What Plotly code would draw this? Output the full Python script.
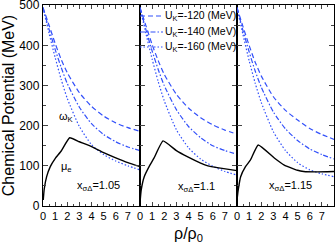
import plotly.graph_objects as go
from plotly.subplots import make_subplots

# ---- data ----
rho_k = [0, 0.5, 1, 1.5, 2, 3, 4, 5, 6, 7, 8]
uk_labels = ["U<sub>K</sub>=-120 (MeV)", "U<sub>K</sub>=-140 (MeV)", "U<sub>K</sub>=-160 (MeV)"]
panel_labels = ["x<sub>σΔ</sub>=1.05", "x<sub>σΔ</sub>=1.1", "x<sub>σΔ</sub>=1.15"]

omega_p1_120 = [494, 450, 405, 365, 332, 282, 248, 224, 207, 195, 186]
omega_p1_140 = [494, 440, 390, 345, 305, 246, 205, 178, 160, 147, 138]
omega_p1_160 = [494, 430, 370, 315, 268, 198, 153, 128, 112, 100, 90]

omega_p2_120 = [494, 448, 402, 362, 328, 278, 244, 220, 202, 189, 179]
omega_p2_140 = [494, 438, 386, 340, 300, 240, 198, 170, 150, 138, 129]
omega_p2_160 = [494, 428, 366, 310, 262, 190, 145, 117, 99, 86, 77]

omega_p3_120 = [494, 446, 400, 358, 324, 272, 238, 214, 193, 178, 166]
omega_p3_140 = [494, 436, 384, 336, 296, 234, 192, 163, 142, 128, 117]
omega_p3_160 = [494, 426, 362, 306, 258, 185, 138, 108, 90, 80, 73]

mu_x_p1 = [0.02, 0.1, 0.3, 0.6, 1.0, 1.5, 2.2, 3, 4, 5, 6, 7, 8]
mu_y_p1 = [15, 42, 73, 98, 118, 137, 170, 160, 148, 133, 120, 108, 98]
mu_x_p2 = [0.02, 0.1, 0.35, 0.75, 1.15, 1.9, 3, 3.9, 5, 5.6, 6.5, 8]
mu_y_p2 = [15, 40, 73, 98, 119, 162, 138, 123, 107, 100, 95, 88]
mu_x_p3 = [0.02, 0.1, 0.3, 0.7, 1.1, 1.75, 3.1, 3.9, 5.0, 5.5, 6.5, 8]
mu_y_p3 = [20, 40, 73, 98, 114, 152, 119, 102, 89, 86, 85, 86]

x_ticks = [0, 1, 2, 3, 4, 5, 6, 7]
y_ticks = [0, 100, 200, 300, 400, 500]

omegas = [
    [omega_p1_120, omega_p1_140, omega_p1_160],
    [omega_p2_120, omega_p2_140, omega_p2_160],
    [omega_p3_120, omega_p3_140, omega_p3_160],
]
mus = [(mu_x_p1, mu_y_p1), (mu_x_p2, mu_y_p2), (mu_x_p3, mu_y_p3)]

BLUE = "rgb(50,80,250)"
dashes = ["5px,3px", "5px,2px,1.5px,2px", "1.5px,2px"]
FONT = "Liberation Sans, Arial, sans-serif"

# plot-area geometry in pixels (for the hand-drawn legend)
W, H = 336, 250
ML, MR, MT, MB = 43, 2, 5, 44
PW, PH = W - ML - MR, H - MT - MB


def px_to_paper(px, py):
    return (px - ML) / PW, (H - MB - py) / PH


fig = make_subplots(rows=1, cols=3, shared_yaxes=True, horizontal_spacing=0)

for p in range(3):
    for k in range(3):
        fig.add_trace(go.Scatter(
            x=rho_k, y=omegas[p][k], mode="lines",
            line=dict(color=BLUE, width=1.2, dash=dashes[k], shape="spline", smoothing=0.6),
            name=uk_labels[k], showlegend=False, hoverinfo="skip"),
            row=1, col=p + 1)
    fig.add_trace(go.Scatter(
        x=mus[p][0], y=mus[p][1], mode="lines",
        line=dict(color="black", width=1.4, shape="spline", smoothing=0.4),
        showlegend=False, hoverinfo="skip"), row=1, col=p + 1)

for p in range(3):
    fig.update_xaxes(
        range=[0, 8], tickvals=x_ticks, ticks="inside", ticklen=4, tickwidth=1,
        minor=dict(dtick=0.5, ticks="inside", ticklen=2, tickwidth=1),
        showline=True, linecolor="black", linewidth=1.2, mirror="allticks",
        showgrid=False, zeroline=False, automargin=False, ticklabeloverflow="allow",
        tickfont=dict(size=11, family=FONT, color="black"),
        row=1, col=p + 1)
    fig.update_yaxes(
        range=[0, 500.5], tickvals=y_ticks, ticks="inside", ticklen=5, tickwidth=1,
        minor=dict(dtick=50, ticks="inside", ticklen=3, tickwidth=1),
        showline=True, linecolor="black", linewidth=1.2, mirror="allticks",
        showgrid=False, zeroline=False, automargin=False, ticklabeloverflow="allow",
        tickfont=dict(size=12, family=FONT, color="black"),
        row=1, col=p + 1)

fig.update_yaxes(title=dict(text="Chemical Potential (MeV)", font=dict(size=16, family=FONT, color="black"), standoff=3),
                 row=1, col=1)
fig.update_xaxes(title=dict(text="ρ/ρ<sub>0</sub>", font=dict(size=16, family=FONT, color="black"), standoff=6),
                 row=1, col=2)

fig.layout.xaxis.domain = [0, 1 / 3]
fig.layout.xaxis2.domain = [1 / 3, 2 / 3]
fig.layout.xaxis3.domain = [2 / 3, 1]

ann_font = dict(size=11, family=FONT, color="black")
fig.add_annotation(x=1.15, y=221, xref="x", yref="y", text="ω<sub>K</sub>", showarrow=False,
                   xanchor="left", font=ann_font)
fig.add_annotation(x=1.35, y=97, xref="x", yref="y", text="μ<sub>e</sub>", showarrow=False,
                   xanchor="left", font=ann_font)
fig.add_annotation(x=2.6, y=50, xref="x", yref="y", text=panel_labels[0], showarrow=False,
                   xanchor="left", font=ann_font)
fig.add_annotation(x=3.0, y=48, xref="x2", yref="y2", text=panel_labels[1], showarrow=False,
                   xanchor="left", font=ann_font)
fig.add_annotation(x=2.45, y=50, xref="x3", yref="y3", text=panel_labels[2], showarrow=False,
                   xanchor="left", font=ann_font)

# hand-drawn legend (sample line + label) at the top-left of the middle panel
legend_rows_py = [16, 32, 47]
leg_font = dict(size=10.5, family=FONT, color="black")
for k in range(3):
    x0, yy = px_to_paper(140, legend_rows_py[k])
    x1, _ = px_to_paper(163, legend_rows_py[k])
    xt, _ = px_to_paper(163, legend_rows_py[k])
    fig.add_shape(type="line", xref="paper", yref="paper", x0=x0, x1=x1, y0=yy, y1=yy,
                  line=dict(color=BLUE, width=1.2, dash=dashes[k]))
    fig.add_annotation(x=xt, y=yy, xref="paper", yref="paper", text=uk_labels[k],
                       showarrow=False, xanchor="left", yanchor="middle", font=leg_font)

fig.update_layout(
    width=W, height=H,
    margin=dict(l=ML, r=MR, t=MT, b=MB),
    paper_bgcolor="white", plot_bgcolor="white",
    font=dict(family=FONT, color="black"),
    showlegend=False,
    hovermode=False,
)

fig.write_html("out.html", config={"displayModeBar": False, "staticPlot": True},
               post_script="document.body.style.margin='0px';")
